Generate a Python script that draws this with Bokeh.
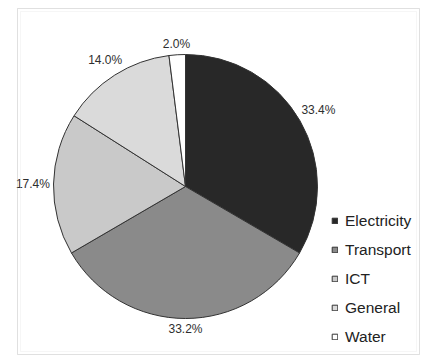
import math

from bokeh.core.properties import value
from bokeh.embed import file_html
from bokeh.models import BoxAnnotation, ColumnDataSource, Legend, LegendItem, Range1d
from bokeh.plotting import figure
from bokeh.resources import INLINE

# Energy share by sector
categories = ["Electricity", "Transport", "ICT", "General", "Water"]
shares = [33.4, 33.2, 17.4, 14.0, 2.0]
labels = ["33.4%", "33.2%", "17.4%", "14.0%", "2.0%"]
colors = ["#282828", "#8a8a8a", "#c9c9c9", "#dadada", "#ffffff"]

W, H = 425, 356
CX, CY = 185, 186          # pie centre, page pixels from top-left
R = 132                    # pie radius in pixels (1 data unit = 1 pixel)
FONT = "Liberation Sans"

p = figure(
    width=W, height=H,
    x_range=Range1d(-CX, W - CX), y_range=Range1d(CY - H, CY),
    output_backend="svg", toolbar_location=None,
    x_axis_location=None, y_axis_location=None,
    min_border=0, outline_line_color=None,
    background_fill_color="white", border_fill_color="white",
)
p.grid.visible = False

# slice angles: start at twelve o'clock, run clockwise
total = sum(shares)
starts, ends, mids = [], [], []
cum = 0.0
for s in shares:
    a0 = math.pi / 2 - 2 * math.pi * cum / total
    a1 = math.pi / 2 - 2 * math.pi * (cum + s) / total
    starts.append(a0)
    ends.append(a1)
    mids.append((a0 + a1) / 2)
    cum += s

src = ColumnDataSource(dict(cat=categories, start=starts, end=ends, color=colors))
pie = p.wedge(x=0, y=0, radius=R, start_angle="start", end_angle="end",
              direction="clock", fill_color="color", line_color="#333333",
              line_width=1, source=src)

# percentage labels just outside the rim
lx, ly = [], []
for lab, a in zip(labels, mids):
    ux, uy = math.cos(a), math.sin(a)
    half_w = len(lab) * 3.3
    half_h = 6
    r = R + 4 + abs(ux) * half_w + abs(uy) * half_h
    lx.append(r * ux)
    ly.append(r * uy)
p.text(x=lx, y=ly, text=labels, text_font=value(FONT), text_font_size="12px",
       text_color="#2e2e2e", text_align="center", text_baseline="middle")

# chart frame
frame_outer = BoxAnnotation(left=17 - CX, right=419 - CX, top=CY - 8, bottom=CY - 354,
                            fill_alpha=0, line_color="#979797", line_width=1)
frame_inner = BoxAnnotation(left=20 - CX, right=416 - CX, top=CY - 11, bottom=CY - 351,
                            fill_alpha=0, line_color="#e2e2e2", line_width=1)
p.add_layout(frame_outer)
p.add_layout(frame_inner)

# legend anchored by its bottom-left corner, pixels from the bottom-left of the plot
legend = Legend(
    items=[LegendItem(label=c, renderers=[pie], index=i) for i, c in enumerate(categories)],
    location=(331, 5),
    orientation="vertical",
    glyph_width=7, glyph_height=7,
    label_standoff=7, label_height=29, spacing=0,
    padding=0, margin=0,
    label_text_font=FONT, label_text_font_size="15.5px", label_text_color="#222222",
    border_line_color=None, background_fill_alpha=0,
)
p.add_layout(legend, "center")

open("out.html", "w").write(file_html(p, INLINE))
